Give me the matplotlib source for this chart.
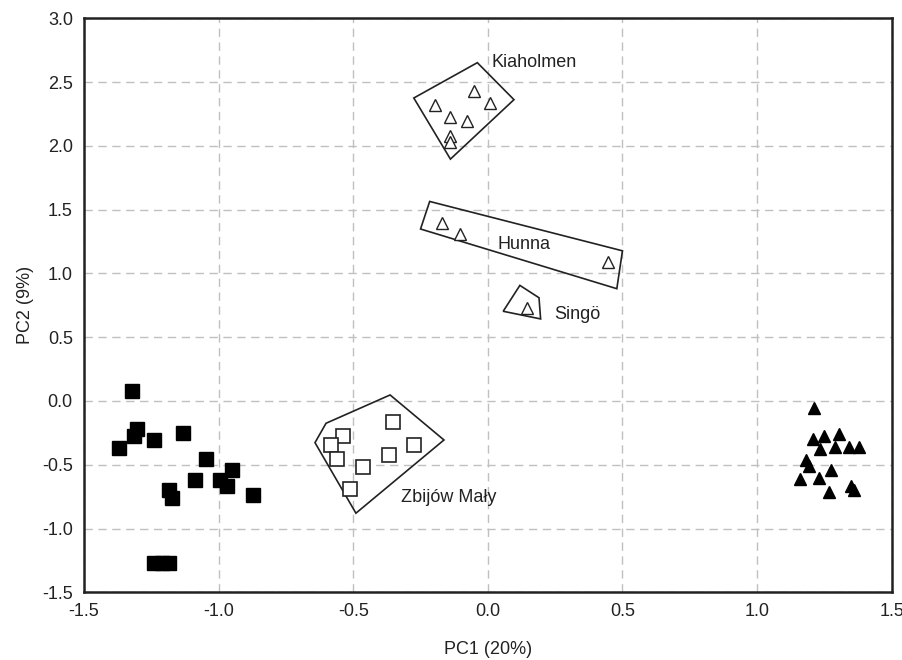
import matplotlib.pyplot as plt
from matplotlib.patches import Polygon

plt.rcParams['font.family'] = ['Liberation Sans', 'DejaVu Sans']

# filled squares (left cluster)
sq_x = [-1.323, -1.304, -1.314, -1.370, -1.240, -1.131, -1.045, -1.086, -0.952,
        -0.994, -0.970, -1.184, -1.172, -0.873, -1.239, -1.211, -1.184]
sq_y = [0.079, -0.218, -0.271, -0.371, -0.310, -0.250, -0.455, -0.619, -0.545,
        -0.619, -0.666, -0.697, -0.758, -0.740, -1.272, -1.272, -1.272]

# filled triangles (right cluster)
tri_x = [1.211, 1.209, 1.248, 1.304, 1.234, 1.291, 1.341, 1.377, 1.182,
         1.194, 1.275, 1.161, 1.229, 1.347, 1.359, 1.266]
tri_y = [-0.052, -0.297, -0.276, -0.258, -0.376, -0.363, -0.363, -0.363, -0.461,
         -0.508, -0.542, -0.613, -0.605, -0.666, -0.697, -0.711]

# open triangles
kia_x = [-0.052, -0.198, 0.007, -0.142, -0.079, -0.142, -0.142]
kia_y = [2.433, 2.318, 2.336, 2.223, 2.191, 2.081, 2.028]
hun_x = [-0.170, -0.104, 0.446]
hun_y = [1.393, 1.309, 1.090]
sin_x = [0.147]
sin_y = [0.730]

# open squares
zbi_x = [-0.353, -0.539, -0.583, -0.560, -0.275, -0.366, -0.464, -0.511]
zbi_y = [-0.166, -0.271, -0.342, -0.455, -0.345, -0.421, -0.516, -0.687]

# group outlines
kia_hull = [(-0.275, 2.375), (-0.039, 2.652), (0.097, 2.362), (-0.139, 1.896)]
hun_hull = [(-0.216, 1.564), (0.500, 1.177), (0.479, 0.880), (-0.250, 1.348)]
sin_hull = [(0.119, 0.906), (0.190, 0.809), (0.196, 0.643), (0.057, 0.703)]
zbi_hull = [(-0.642, -0.327), (-0.601, -0.175), (-0.363, 0.047),
            (-0.163, -0.306), (-0.490, -0.880)]

labels = ["Kiaholmen", "Hunna", "Singö", "Zbijów Mały"]
label_pos = [(0.014, 2.652), (0.035, 1.230), (0.246, 0.677), (-0.324, -0.758)]

fig = plt.figure(figsize=(9.03, 6.6), dpi=100)
ax = fig.add_axes([0.093, 0.1026, 0.8945, 0.8697])

ax.grid(True, color='#c0c0c0', linestyle=(0, (6, 4)), linewidth=1.0)
ax.set_axisbelow(True)

for hull in [kia_hull, hun_hull, sin_hull, zbi_hull]:
    ax.add_patch(Polygon(hull, closed=True, fill=False, edgecolor='#222222', linewidth=1.2))

ax.plot(sq_x, sq_y, 's', color='black', markersize=10, linestyle='none')
ax.plot(tri_x, tri_y, '^', color='black', markersize=9, linestyle='none')
for xs, ys in [(kia_x, kia_y), (hun_x, hun_y), (sin_x, sin_y)]:
    ax.plot(xs, ys, '^', markerfacecolor='white', markeredgecolor='#222222',
            markeredgewidth=1.0, markersize=9, linestyle='none')
ax.plot(zbi_x, zbi_y, 's', markerfacecolor='white', markeredgecolor='#222222',
        markeredgewidth=1.2, markersize=10.5, linestyle='none')

for lab, (lx, ly) in zip(labels, label_pos):
    ax.text(lx, ly, lab, fontsize=13, color='#222222', ha='left', va='center')

ax.set_xlim(-1.5, 1.5)
ax.set_ylim(-1.5, 3.0)
ax.set_xticks([-1.5, -1.0, -0.5, 0.0, 0.5, 1.0, 1.5])
ax.set_yticks([-1.5, -1.0, -0.5, 0.0, 0.5, 1.0, 1.5, 2.0, 2.5, 3.0])
ax.set_xticklabels(["-1.5", "-1.0", "-0.5", "0.0", "0.5", "1.0", "1.5"])
ax.set_yticklabels(["-1.5", "-1.0", "-0.5", "0.0", "0.5", "1.0", "1.5", "2.0", "2.5", "3.0"])
ax.tick_params(length=0, labelsize=13, colors='#222222', pad=8)
ax.set_xlabel("PC1 (20%)", fontsize=13, color='#222222', labelpad=15)
ax.set_ylabel("PC2 (9%)", fontsize=13, color='#222222', labelpad=6)
for s in ax.spines.values():
    s.set_linewidth(1.8)
    s.set_color('#222222')

fig.savefig("out.png", dpi=100)
